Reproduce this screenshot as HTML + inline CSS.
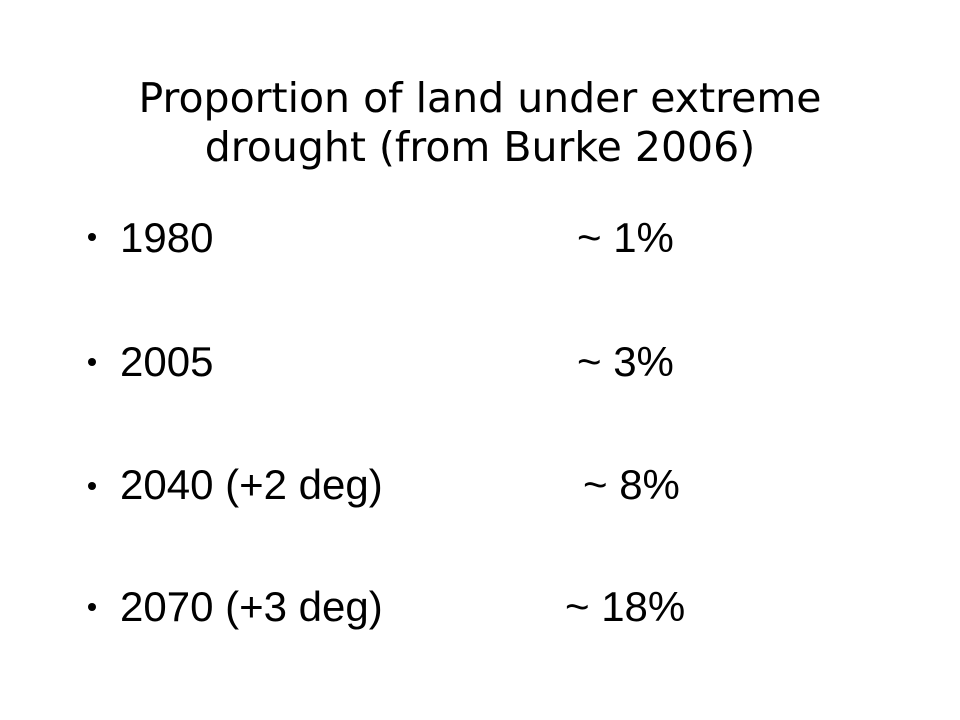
<!DOCTYPE html>
<html>
<head>
<meta charset="utf-8">
<style>
  html, body { margin: 0; padding: 0; }
  body { width: 960px; height: 720px; background: #fff; position: relative; overflow: hidden; }
  .title { position: absolute; left: 0; width: 960px; text-align: center; font-family: "DejaVu Sans", "Liberation Sans", sans-serif; font-size: 41px; color: #000; line-height: 49px; top: 74px; }
  .row { position: absolute; font-family: "Liberation Sans", sans-serif; font-size: 42px; color: #000; line-height: 42px; white-space: nowrap; }
  .bullet { position: absolute; left: 88px; width: 8px; height: 8px; border-radius: 50%; background: #000; }
</style>
</head>
<body>
  <div class="title">Proportion of land under extreme<br>drought (from Burke 2006)</div>

  <div class="bullet" style="top:233px"></div>
  <div class="row" style="left:120px; top:217px">1980</div>
  <div class="row" style="left:577px; top:217px">~ 1%</div>

  <div class="bullet" style="top:358px"></div>
  <div class="row" style="left:120px; top:341px">2005</div>
  <div class="row" style="left:577px; top:341px">~ 3%</div>

  <div class="bullet" style="top:482px"></div>
  <div class="row" style="left:120px; top:464px">2040 (+2 deg)</div>
  <div class="row" style="left:583px; top:464px">~ 8%</div>

  <div class="bullet" style="top:603px"></div>
  <div class="row" style="left:120px; top:586px">2070 (+3 deg)</div>
  <div class="row" style="left:565px; top:586px">~ 18%</div>
</body>
</html>
